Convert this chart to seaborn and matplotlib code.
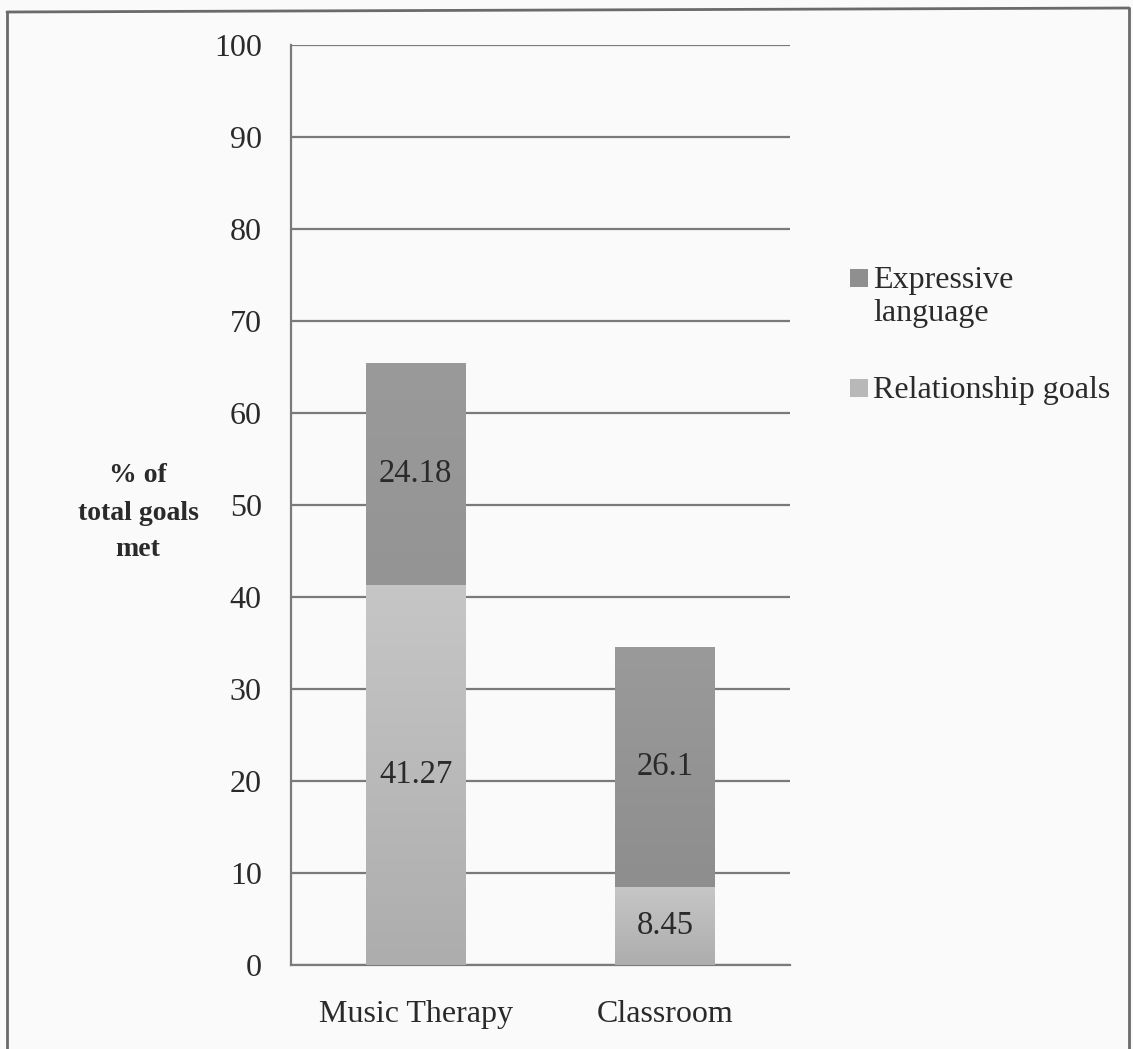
import matplotlib
matplotlib.use("Agg")
import matplotlib.pyplot as plt
import seaborn as sns
import numpy as np
import pandas as pd
from matplotlib.lines import Line2D
from matplotlib.patches import Rectangle
from matplotlib.colors import LinearSegmentedColormap

# Data
settings = ["Music Therapy", "Classroom"]
relationship_goals = [41.27, 8.45]
expressive_language = [24.18, 26.1]
y_ticks = [0, 10, 20, 30, 40, 50, 60, 70, 80, 90, 100]
legend_labels = [["Expressive", "language"], ["Relationship goals"]]
y_label_lines = ["% of", "total goals", "met"]

sns.set_theme(style="white")
plt.rcParams["font.family"] = "serif"
plt.rcParams["font.serif"] = ["Liberation Serif", "DejaVu Serif"]
fam = "Liberation Serif"

W, H = 1133, 1049
bg = "#fafafa"
col_expr = "#8f8f8f"
col_rel = "#b8b8b8"
grid_col = "#7a7a7a"
text_col = "#2a2a2a"


def fx(px):
    return px / W


def fy(py):
    return 1 - py / H


fig = plt.figure(figsize=(W / 100, H / 100), dpi=100, facecolor=bg)
ax = fig.add_axes([fx(291), 84 / H, 499 / W, 920 / H])
ax.set_facecolor(bg)

totals = [r + e for r, e in zip(relationship_goals, expressive_language)]
df = pd.DataFrame({
    "setting": settings,
    "relationship": relationship_goals,
    "expressive": expressive_language,
    "total": totals,
})

# Stacked bars: full stack in the expressive colour, relationship segment drawn over it
sns.barplot(data=df, x="setting", y="total", color=col_expr, saturation=1,
            width=0.4, ax=ax, zorder=3, linewidth=0)
n_first = len(ax.patches)
sns.barplot(data=df, x="setting", y="relationship", color=col_rel, saturation=1,
            width=0.4, ax=ax, zorder=4, linewidth=0)

# Soft vertical shading inside each bar segment
ax.set_xlim(-0.5, 1.5)
ax.set_ylim(0, 100)
grad = np.linspace(0, 1, 256).reshape(-1, 1)
cm_expr = LinearSegmentedColormap.from_list("expr", ["#8a8a8a", "#9a9a9a"])
cm_rel = LinearSegmentedColormap.from_list("rel", ["#adadad", "#c6c6c6"])
for k, p in enumerate(ax.patches):
    x0, y0 = p.get_x(), p.get_y()
    w, h = p.get_width(), p.get_height()
    if k < n_first:
        cmap, z = cm_expr, 3.5
    else:
        cmap, z = cm_rel, 4.5
    im = ax.imshow(grad, cmap=cmap, extent=(x0, x0 + w, y0, y0 + h), origin="lower",
                   aspect="auto", zorder=z, interpolation="bilinear")
    im.set_clip_path(p)
ax.set_xlim(-0.5, 1.5)
ax.set_ylim(0, 100)

# Segment value labels
for i, (r, e) in enumerate(zip(relationship_goals, expressive_language)):
    ax.text(i, r / 2, f"{r:g}", ha="center", va="center", fontsize=23.5,
            color=text_col, zorder=6, family=fam)
    ax.text(i, r + e / 2, f"{e:g}", ha="center", va="center", fontsize=23.5,
            color=text_col, zorder=6, family=fam)

ax.set_yticks(y_ticks)
ax.set_yticklabels([str(t) for t in y_ticks], fontsize=23, color=text_col, family=fam)
ax.yaxis.grid(True, color=grid_col, linewidth=1.6, zorder=1)
ax.set_axisbelow(True)

# Category ticks sit between the bars
ax.set_xticks([0, 1])
ax.set_xticklabels(settings, fontsize=23, color=text_col, family=fam)
ax.set_xticks([-0.5, 0.5, 1.5], minor=True)
ax.tick_params(axis="x", which="major", length=0, pad=25)
ax.tick_params(axis="x", which="minor", length=8, width=1.5, color=grid_col, direction="out")
ax.tick_params(axis="y", length=8, width=1.5, color=grid_col, direction="out", pad=13)

for side in ["top", "right"]:
    ax.spines[side].set_visible(False)
for side in ["left", "bottom"]:
    ax.spines[side].set_color(grid_col)
    ax.spines[side].set_linewidth(1.6)

ax.set_xlabel("")
ax.set_ylabel("")

# Horizontal axis title, one line at a time
for line, base in zip(y_label_lines, [482, 520, 556]):
    fig.text(fx(138), fy(base), line, ha="center", va="baseline", fontsize=20,
             fontweight="bold", color=text_col, family=fam)

# Legend: swatch beside the first line of each entry
legend_colors = [col_expr, col_rel]
legend_baselines = [[288, 321], [398]]
for lines, bases, col in zip(legend_labels, legend_baselines, legend_colors):
    top = bases[0] - 20
    fig.add_artist(Rectangle((fx(850), fy(top + 19)), 18 / W, 18 / H,
                             transform=fig.transFigure, facecolor=col, edgecolor="none"))
    for line, base in zip(lines, bases):
        fig.text(fx(873), fy(base), line, ha="left", va="baseline", fontsize=23,
                 color=text_col, family=fam)

# Outer frame
frame_col = "#6a6a6a"
fig.add_artist(Line2D([fx(7), fx(7)], [0, fy(12)], transform=fig.transFigure,
                      color=frame_col, linewidth=2))
fig.add_artist(Line2D([fx(7), fx(1129)], [fy(12), fy(8)],
                      transform=fig.transFigure, color=frame_col, linewidth=2))
fig.add_artist(Line2D([fx(1129), fx(1129)], [fy(8), 0],
                      transform=fig.transFigure, color=frame_col, linewidth=2))

fig.savefig("out.png", dpi=100, facecolor=bg)
